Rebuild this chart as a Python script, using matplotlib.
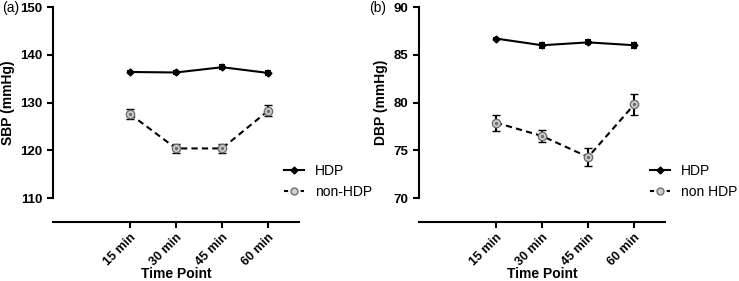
import matplotlib
matplotlib.use("Agg")
import matplotlib.pyplot as plt
from matplotlib.lines import Line2D
import numpy as np

plt.rcParams['font.family'] = ['Liberation Sans', 'DejaVu Sans']

time_labels = ["15 min", "30 min", "45 min", "60 min"]
x_pos = [1, 2, 3, 4]

sbp_hdp = [136.4, 136.3, 137.4, 136.2]
sbp_hdp_err = [0.3, 0.4, 0.4, 0.4]
sbp_non = [127.6, 120.4, 120.4, 128.3]
sbp_non_err = [1.0, 0.9, 0.9, 1.1]

dbp_hdp = [86.7, 86.0, 86.3, 86.0]
dbp_hdp_err = [0.1, 0.25, 0.2, 0.25]
dbp_non = [77.9, 76.5, 74.3, 79.8]
dbp_non_err = [0.85, 0.65, 0.9, 1.1]

fig = plt.figure(figsize=(7.39, 2.81), dpi=100)

def panel(rect, hdp, hdp_err, non, non_err, ylim, yticks, ylabel, letter, letter_x, nonlabel):
    ax = fig.add_axes(rect)
    ax.errorbar(x_pos, hdp, yerr=hdp_err, color='black', lw=1.5, marker='D',
                ms=3.5, mfc='black', mec='black', capsize=2.5, elinewidth=1.5,
                capthick=1.5, zorder=3)
    ax.errorbar(x_pos, non, yerr=non_err, color='black', lw=1.5, ls=(0, (3, 2)),
                marker='o', ms=6, mfc='#d0d0d0', mec='#707070', mew=1.0,
                capsize=3, elinewidth=1.5, capthick=1.5, zorder=3)
    ax.plot(x_pos, non, ls='none', marker='.', ms=3, color='#707070', zorder=4)
    ax.set_xlim(-0.67, 4.67)
    ax.set_ylim(*ylim)
    for s in ['top', 'right']:
        ax.spines[s].set_visible(False)
    ax.spines['bottom'].set_position(('outward', 17))
    ax.spines['left'].set_linewidth(1.5)
    ax.spines['bottom'].set_linewidth(1.5)
    ax.tick_params(width=1.5, length=4)
    ax.tick_params(axis='x', pad=3)
    ax.set_yticks(yticks)
    ax.set_yticklabels([str(t) for t in yticks])
    ax.set_xticks(x_pos)
    ax.set_xticklabels(time_labels)
    plt.setp(ax.get_yticklabels(), fontweight='bold', fontsize=9.5)
    plt.setp(ax.get_xticklabels(), rotation=45, ha='right', rotation_mode='anchor',
             fontweight='bold', fontsize=9)
    ax.set_ylabel(ylabel, fontweight='bold', fontsize=10)
    ax.set_xlabel('Time Point', fontweight='bold', fontsize=10)
    ax.xaxis.set_label_coords(0.5, -0.36)
    handles = [
        Line2D([], [], color='black', lw=1.5, marker='D', ms=3.5),
        Line2D([], [], color='black', lw=1.5, ls=(0, (2, 2)), marker='o', ms=5,
               mfc='#d0d0d0', mec='#707070', mew=1.0),
    ]
    ax.legend(handles, ['HDP', nonlabel], loc='upper left', bbox_to_anchor=(0.94, 0.18),
              frameon=False, fontsize=10, handlelength=1.4, handletextpad=0.8,
              labelspacing=0.5, borderpad=0, borderaxespad=0)
    fig.text(letter_x, 0.972, letter, fontsize=10, va='center')
    return ax

panel([0.0717, 0.295, 0.333, 0.68], sbp_hdp, sbp_hdp_err, sbp_non, sbp_non_err,
      (110, 150), [110, 120, 130, 140, 150], 'SBP (mmHg)', '(a)', 0.003, 'non-HDP')
panel([0.567, 0.295, 0.333, 0.68], dbp_hdp, dbp_hdp_err, dbp_non, dbp_non_err,
      (70, 90), [70, 75, 80, 85, 90], 'DBP (mmHg)', '(b)', 0.5, 'non HDP')

fig.savefig('out.png', dpi=100)
